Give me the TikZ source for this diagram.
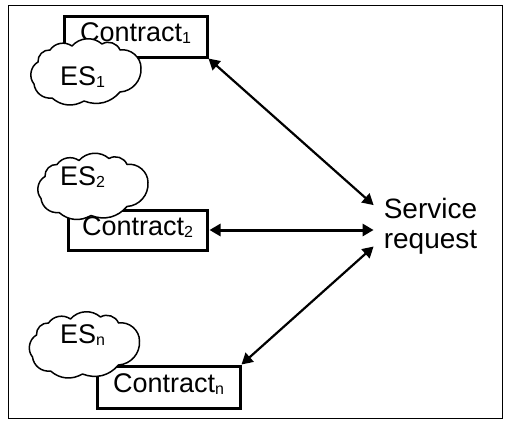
\documentclass[tikz,border=0pt]{standalone}
\usepackage{fontspec}
\setmainfont{Liberation Sans}
\usetikzlibrary{arrows.meta}
\newcommand\sbs[1]{\raisebox{-2pt}{\fontsize{16}{16}\selectfont #1}}
\newcommand\escloud{(-54,12) to[bend left=50] (-50,-10) to[bend left=50] (-38,-22)
  to[bend left=45] (-16,-26) to[bend left=45] (14,-28) to[bend left=50] (32,-22)
  to[bend left=50] (53,-4) to[bend left=45] (32,20) to[bend left=35] (-4,29)
  to[bend left=35] (-36,26) to[bend left=45] cycle}
\begin{document}
\begin{tikzpicture}[x=1pt,y=-1pt,
  box/.style={draw, line width=3pt, inner sep=0pt, font=\fontsize{27}{27}\selectfont, text depth=8pt},
  es/.style={draw, line width=1.5pt, fill=white, line join=round},
  estext/.style={anchor=base west, inner sep=0pt, font=\fontsize{27}{27}\selectfont},
  link/.style={{Triangle[length=11pt,width=12pt]}-{Triangle[length=11pt,width=12pt]}, line width=2.2pt}]
\useasboundingbox (0,0) rectangle (511,426);
\fill[white] (0,0) rectangle (511,426);
\draw[line width=1pt] (8,5) rectangle (502,418);
% contract boxes
\node[box, minimum width=143pt, minimum height=41pt] (c1) at (135.5,36.5) {Contract\sbs{1}};
\node[box, minimum width=139pt, minimum height=40pt] (c2) at (137.5,230) {Contract\sbs{2}};
\node[box, minimum width=143pt, minimum height=42pt] (cn) at (168.5,387) {Contract\sbs{n}};
% clouds
\begin{scope}[shift={(88,72)}]
  \draw[es] \escloud;
\end{scope}
\begin{scope}[shift={(95,186.5)}]
  \draw[es] \escloud;
\end{scope}
\begin{scope}[shift={(86.5,345)}]
  \draw[es] \escloud;
\end{scope}
\node[estext] (t1) at (60,85) {ES\sbs{1}};
\node[estext] (t2) at (60,185) {ES\sbs{2}};
\node[estext] (tn) at (60,343) {ES\sbs{n}};
% service request
\node[align=center, font=\fontsize{28}{30}\selectfont, inner xsep=10pt, inner ysep=0pt] (sr) at (430.5,225.8) {Service\\request};
% connectors
\draw[link] (c1.south east) -- (sr.160);
\draw[link, line width=3pt, shorten <=1pt] (c2.east) -- (c2.east -| sr.west);
\draw[link] (cn.north east) -- (sr.200);
\end{tikzpicture}
\end{document}
